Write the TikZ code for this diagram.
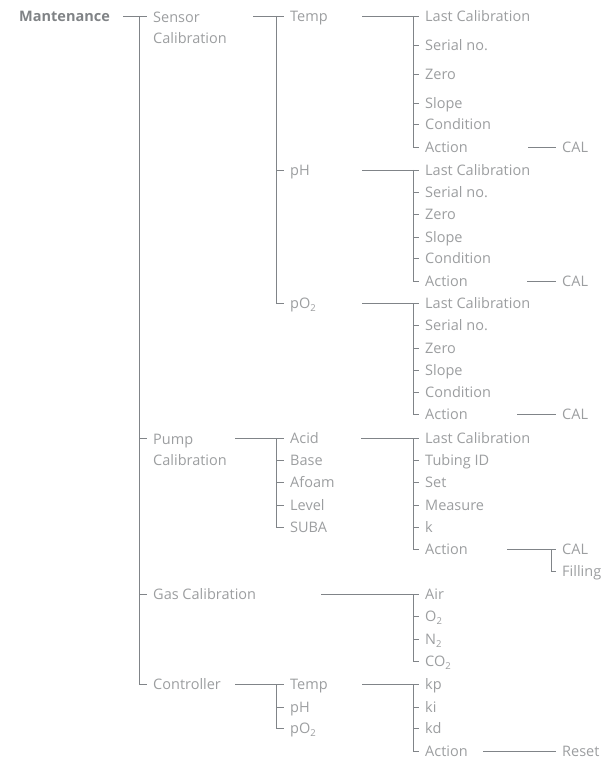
\documentclass[tikz,border=0pt]{standalone}
\usepackage{fontspec}
\setmainfont{Open Sans}
\definecolor{txtgray}{RGB}{156,158,160}
\definecolor{titlegray}{RGB}{128,131,134}
\definecolor{linegray}{RGB}{128,132,136}
\newcommand\subtwo{\raisebox{-0.35ex}{\fontsize{9.5}{9.5}\selectfont 2}}
\tikzset{
  lbl/.style={anchor=west, inner xsep=6pt, inner ysep=0pt, text height=12.5pt, text depth=1.5pt,
    font=\fontsize{14.5}{21}\selectfont, text=txtgray},
  lbltwo/.style={anchor=north west, align=left, inner xsep=6pt, inner ysep=0pt,
    font=\fontsize{14.5}{21}\selectfont, text=txtgray},
  ln/.style={draw=linegray, line width=0.9pt},
}
\begin{document}
\begin{tikzpicture}[x=1pt,y=1pt]
\useasboundingbox (0,0) rectangle (605,-762);

% ---------- level 1
\node[lbl, inner xsep=0pt, text=titlegray, font=\fontsize{14.5}{21}\selectfont\bfseries] (mant) at (19,-16) {Mantenance};

% ---------- level 2
\node[lbltwo] (sensor) at (147,-11.5) {Sensor\\Calibration};
\node[lbltwo] (pump) at (147,-433.5) {Pump\\Calibration};
\node[lbl] (gas) at (147,-594) {Gas Calibration};
\node[lbl] (ctrl) at (147,-684) {Controller};
\coordinate (sensort) at ([yshift=-4.5pt]sensor.north west);
\coordinate (pumpt) at ([yshift=-4.5pt]pump.north west);

% ---------- level 3
\node[lbl] (temp) at (284,-16) {Temp};
\node[lbl] (ph) at (284,-170) {pH};
\node[lbl] (po) at (284,-303) {pO\subtwo};
\node[lbl] (acid) at (284,-438) {Acid};
\node[lbl] (base) at (284,-460) {Base};
\node[lbl] (afoam) at (284,-482) {Afoam};
\node[lbl] (level) at (284,-505) {Level};
\node[lbl] (suba) at (284,-527) {SUBA};
\node[lbl] (ctemp) at (284,-684) {Temp};
\node[lbl] (cph) at (284,-707) {pH};
\node[lbl] (cpo) at (284,-728) {pO\subtwo};

% ---------- level 4
% Temp
\node[lbl] (lcA) at (419,-16) {Last Calibration};
\node[lbl] (snA) at (419,-45) {Serial no.};
\node[lbl] (zA) at (419,-74) {Zero};
\node[lbl] (slA) at (419,-103) {Slope};
\node[lbl] (cdA) at (419,-124) {Condition};
\node[lbl] (acA) at (419,-147) {Action};
% pH
\node[lbl] (lcB) at (419,-170) {Last Calibration};
\node[lbl] (snB) at (419,-192) {Serial no.};
\node[lbl] (zB) at (419,-214) {Zero};
\node[lbl] (slB) at (419,-237) {Slope};
\node[lbl] (cdB) at (419,-258) {Condition};
\node[lbl] (acB) at (419,-281) {Action};
% pO2
\node[lbl] (lcC) at (419,-303) {Last Calibration};
\node[lbl] (snC) at (419,-325) {Serial no.};
\node[lbl] (zC) at (419,-348) {Zero};
\node[lbl] (slC) at (419,-370) {Slope};
\node[lbl] (cdC) at (419,-392) {Condition};
\node[lbl] (acC) at (419,-414) {Action};
% Acid
\node[lbl] (lcD) at (419,-438) {Last Calibration};
\node[lbl] (tub) at (419,-460) {Tubing ID};
\node[lbl] (set) at (419,-482) {Set};
\node[lbl] (meas) at (419,-505) {Measure};
\node[lbl] (kk) at (419,-527) {k};
\node[lbl] (acD) at (419,-549) {Action};
% Gas
\node[lbl] (air) at (419,-594) {Air};
\node[lbl] (oxy) at (419,-616) {O\subtwo};
\node[lbl] (nit) at (419,-639) {N\subtwo};
\node[lbl] (cdo) at (419,-661) {CO\subtwo};
% Controller
\node[lbl] (kp) at (419,-684) {kp};
\node[lbl] (ki) at (419,-707) {ki};
\node[lbl] (kd) at (419,-728) {kd};
\node[lbl] (acE) at (419,-751) {Action};

% ---------- level 5
\node[lbl] (calA) at (556,-147) {CAL};
\node[lbl] (calB) at (556,-281) {CAL};
\node[lbl] (calC) at (556,-414) {CAL};
\node[lbl] (calD) at (556,-549) {CAL};
\node[lbl] (fill) at (556,-571) {Filling};
\node[lbl] (reset) at (556,-751) {Reset};

% ---------- connectors level 1 -> 2
\coordinate (h1) at (123,-16);
\coordinate (v1) at (139,-16);
\draw[ln] (h1) -- (sensort);
\draw[ln] (v1) |- (ctrl.west);
\draw[ln] (v1 |- pumpt) -- (pumpt);
\draw[ln] (v1 |- gas.west) -- (gas.west);

% ---------- level 2 -> 3
\coordinate (h2a) at (253,-16);
\coordinate (v2a) at (276,-16);
\draw[ln] (h2a) -- (temp.west);
\draw[ln] (v2a) |- (po.west);
\draw[ln] (v2a |- ph.west) -- (ph.west);

\coordinate (h2b) at (235,-438);
\coordinate (v2b) at (276,-438);
\draw[ln] (h2b) -- (acid.west);
\draw[ln] (v2b) |- (suba.west);
\foreach \n in {base,afoam,level} \draw[ln] (v2b |- \n.west) -- (\n.west);

\coordinate (h2c) at (321,-594);
\coordinate (v2c) at (413,-594);
\draw[ln] (h2c) -- (air.west);
\draw[ln] (v2c) |- (cdo.west);
\foreach \n in {oxy,nit} \draw[ln] (v2c |- \n.west) -- (\n.west);

\coordinate (h2d) at (235,-684);
\coordinate (v2d) at (276,-684);
\draw[ln] (h2d) -- (ctemp.west);
\draw[ln] (v2d) |- (cpo.west);
\draw[ln] (v2d |- cph.west) -- (cph.west);

% ---------- level 3 -> 4
\coordinate (h3a) at (362,-16);
\coordinate (v3a) at (413,-16);
\draw[ln] (h3a) -- (lcA.west);
\draw[ln] (v3a) |- (acA.west);
\foreach \n in {snA,zA,slA,cdA} \draw[ln] (v3a |- \n.west) -- (\n.west);

\coordinate (h3b) at (362,-170);
\coordinate (v3b) at (413,-170);
\draw[ln] (h3b) -- (lcB.west);
\draw[ln] (v3b) |- (acB.west);
\foreach \n in {snB,zB,slB,cdB} \draw[ln] (v3b |- \n.west) -- (\n.west);

\coordinate (h3c) at (362,-303);
\coordinate (v3c) at (413,-303);
\draw[ln] (h3c) -- (lcC.west);
\draw[ln] (v3c) |- (acC.west);
\foreach \n in {snC,zC,slC,cdC} \draw[ln] (v3c |- \n.west) -- (\n.west);

\coordinate (h3d) at (361,-438);
\coordinate (v3d) at (413,-438);
\draw[ln] (h3d) -- (lcD.west);
\draw[ln] (v3d) |- (acD.west);
\foreach \n in {tub,set,meas,kk} \draw[ln] (v3d |- \n.west) -- (\n.west);

\coordinate (h3e) at (362,-684);
\coordinate (v3e) at (413,-684);
\draw[ln] (h3e) -- (kp.west);
\draw[ln] (v3e) |- (acE.west);
\foreach \n in {ki,kd} \draw[ln] (v3e |- \n.west) -- (\n.west);

% ---------- level 4 -> 5
\coordinate (h4a) at (528,-147);
\draw[ln] (h4a) -- (calA.west);
\coordinate (h4b) at (527,-281);
\draw[ln] (h4b) -- (calB.west);
\coordinate (h4c) at (517,-414);
\draw[ln] (h4c) -- (calC.west);
\coordinate (h4d) at (507,-549);
\coordinate (v4d) at (551,-549);
\draw[ln] (h4d) -- (calD.west);
\draw[ln] (v4d) |- (fill.west);
\coordinate (h4e) at (483,-751);
\draw[ln] (h4e) -- (reset.west);
\end{tikzpicture}
\end{document}
